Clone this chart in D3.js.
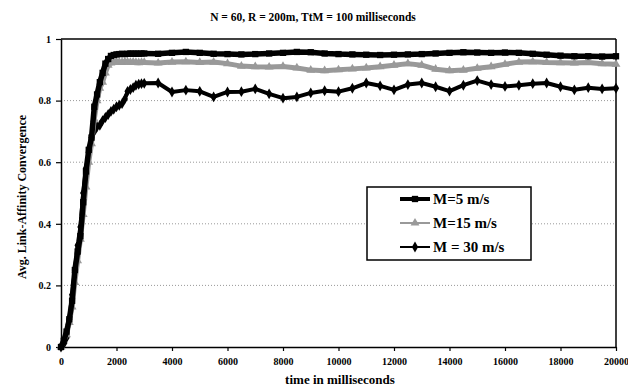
<!DOCTYPE html>
<html><head><meta charset="utf-8">
<script src="https://cdn.jsdelivr.net/npm/d3@7"></script>
<style>body{margin:0;background:#fff}svg{display:block}text{font-family:"Liberation Serif","Times New Roman",serif;font-weight:bold;fill:#000}</style>
</head><body><svg id="c" width="628" height="387"></svg>
<script>
const title = "N = 60, R = 200m, TtM = 100 milliseconds";
const xTitle = "time in milliseconds";
const yTitle = "Avg. Link-Affinity Convergence";
const xTicks = [0,2000,4000,6000,8000,10000,12000,14000,16000,18000,20000];
const yTicks = [0,0.2,0.4,0.6,0.8,1];
const seriesNames = ["M=5 m/s","M=15 m/s","M = 30 m/s"];
const times = [0,100,200,300,400,500,600,700,800,900,1000,1100,1200,1300,1400,1500,1600,1700,1800,1900,2000,
  2100,2200,2300,2400,2500,2600,2700,2800,2900,3000,
  3500,4000,4500,5000,5500,6000,6500,7000,7500,8000,8500,9000,9500,10000,10500,11000,11500,12000,12500,13000,13500,14000,14500,15000,15500,16000,16500,17000,17500,18000,18500,19000,19500,20000];
const m5 = [0,0.02,0.05,0.09,0.15,0.25,0.31,0.36,0.47,0.57,0.64,0.68,0.78,0.82,0.86,0.89,0.92,0.935,0.945,0.948,0.95,
  0.951,0.952,0.951,0.952,0.953,0.952,0.953,0.952,0.953,0.953,
  0.952,0.955,0.958,0.955,0.952,0.951,0.950,0.951,0.953,0.955,0.958,0.957,0.953,0.951,0.950,0.949,0.948,0.949,0.950,0.951,0.953,0.955,0.957,0.956,0.955,0.956,0.955,0.952,0.949,0.946,0.944,0.944,0.943,0.944];
const m15 = [0,0.02,0.04,0.08,0.13,0.21,0.28,0.35,0.43,0.52,0.60,0.66,0.74,0.80,0.84,0.86,0.89,0.915,0.922,0.925,0.926,
  0.925,0.924,0.926,0.925,0.924,0.925,0.924,0.923,0.924,0.924,
  0.922,0.925,0.926,0.924,0.925,0.920,0.912,0.910,0.909,0.911,0.906,0.899,0.897,0.900,0.903,0.906,0.910,0.915,0.920,0.915,0.902,0.897,0.899,0.905,0.910,0.918,0.925,0.926,0.924,0.923,0.922,0.924,0.920,0.918];
const m30 = [0,0.01,0.03,0.09,0.17,0.25,0.33,0.39,0.50,0.58,0.63,0.68,0.70,0.715,0.72,0.735,0.745,0.755,0.765,0.772,0.78,
  0.785,0.79,0.805,0.83,0.836,0.842,0.85,0.853,0.855,0.856,
  0.857,0.828,0.834,0.830,0.812,0.828,0.829,0.838,0.822,0.808,0.812,0.825,0.832,0.829,0.840,0.857,0.848,0.835,0.852,0.857,0.845,0.831,0.850,0.865,0.852,0.846,0.850,0.855,0.857,0.845,0.835,0.842,0.838,0.840];

const svg = d3.select("#c");
const L=61,R=616,T=39,B=347;
const x = d3.scaleLinear().domain([0,20000]).range([L,R]);
const y = d3.scaleLinear().domain([0,1]).range([B,T]);

// grid
svg.append("g").selectAll("line").data(yTicks.filter(d=>d>0&&d<1)).join("line")
  .attr("x1",L).attr("x2",R).attr("y1",d=>y(d)).attr("y2",d=>y(d))
  .attr("stroke","#999").attr("stroke-width",1).attr("stroke-dasharray","1,2");

// frame
svg.append("line").attr("x1",L).attr("x2",R).attr("y1",T).attr("y2",T).attr("stroke","#000").attr("stroke-width",1.5);
svg.append("line").attr("x1",R).attr("x2",R).attr("y1",T).attr("y2",B).attr("stroke","#000").attr("stroke-width",1.5);

const xAxis = svg.append("g").attr("transform",`translate(0,${B})`)
  .call(d3.axisBottom(x).tickValues(xTicks).tickFormat(d3.format("d")).tickSize(4).tickSizeOuter(0));
const yAxis = svg.append("g").attr("transform",`translate(${L},0)`)
  .call(d3.axisLeft(y).tickValues(yTicks).tickFormat(d=>d===0?"0":d===1?"1":d.toString()).tickSize(5).tickSizeOuter(0));
[xAxis,yAxis].forEach(a=>{a.select(".domain").attr("stroke","#000").attr("stroke-width",1.5);
  a.selectAll(".tick line").attr("stroke","#000").attr("stroke-width",1.2);
  a.selectAll("text").style("font-family","Liberation Serif, serif").style("font-weight","bold").style("font-size","10px").attr("fill","#000");});
xAxis.selectAll("text").attr("dy","1.1em");
yAxis.selectAll("text").attr("dx","-2");

const styles = [
  {data:m5,color:"#000",w:5.5,sym:d3.symbolSquare,size:40},
  {data:m15,color:"#999",w:5,sym:d3.symbolTriangle,size:34},
  {data:m30,color:"#000",w:4,sym:d3.symbolDiamond,size:34}
];
const line = d3.line().x(d=>x(d[0])).y(d=>y(d[1]));
const order=[2,1,0];
order.forEach(i=>{
  const s=styles[i];
  const pts=times.map((t,k)=>[t,s.data[k]]);
  svg.append("path").datum(pts).attr("d",line).attr("fill","none").attr("stroke",s.color).attr("stroke-width",s.w).attr("stroke-linejoin","round");
  svg.append("g").selectAll("path").data(pts).join("path")
    .attr("transform",d=>`translate(${x(d[0])},${y(d[1])})`)
    .attr("d",d3.symbol().type(s.sym).size(s.size)).attr("fill",s.color);
});

// titles
svg.append("text").attr("x",313).attr("y",21).attr("text-anchor","middle").style("font-size","11.5px").text(title);
svg.append("text").attr("x",340).attr("y",384).attr("text-anchor","middle").style("font-size","13px").text(xTitle);
svg.append("text").attr("transform","translate(26,197) rotate(-90)").attr("text-anchor","middle").style("font-size","12px").text(yTitle);

// legend
const lg = svg.append("g");
lg.append("rect").attr("x",367).attr("y",187).attr("width",164).attr("height",73).attr("fill","#fff").attr("stroke","#000").attr("stroke-width",1.5);
seriesNames.forEach((n,i)=>{
  const s=styles[i]; const yy=199+i*24;
  lg.append("line").attr("x1",400).attr("x2",430).attr("y1",yy).attr("y2",yy).attr("stroke",s.color).attr("stroke-width",i===0?4:2);
  lg.append("path").attr("transform",`translate(415,${yy})`).attr("d",d3.symbol().type(s.sym).size(s.size)).attr("fill",s.color);
  lg.append("text").attr("x",433).attr("y",yy+5).style("font-size","15px").text(n);
});
</script></body></html>
